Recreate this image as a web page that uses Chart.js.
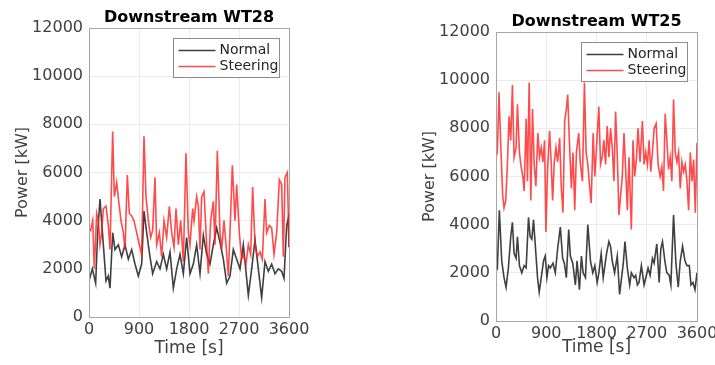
<!DOCTYPE html>
<html>
<head>
<meta charset="utf-8">
<script src="https://cdn.jsdelivr.net/npm/chart.js@4"></script>
<style>
  html, body { margin: 0; padding: 0; background: #fff; overflow: hidden; width: 715px; height: 365px; }
  canvas { position: absolute; top: 0; }
  #wt28 { left: 0; }
  #wt25 { left: 400px; }
</style>
</head>
<body>
<canvas id="wt28" width="330" height="365"></canvas>
<canvas id="wt25" width="340" height="365"></canvas>
<script>
// Axis ticks (shared)
const timeTicks = [0, 900, 1800, 2700, 3600];
const powerTicks = [0, 2000, 4000, 6000, 8000, 10000, 12000];

// WT28 - normal operation
const wt28NormalT = [0,60,120,156,198,258,306,348,378,426,468,528,588,648,708,768,828,888,948,990,1038,1098,1146,1218,1278,1338,1398,1458,1518,1578,1638,1698,1758,1818,1878,1938,1998,2058,2118,2178,2238,2298,2358,2418,2478,2538,2598,2658,2718,2778,2868,2928,2988,3048,3108,3168,3228,3288,3348,3408,3468,3510,3558,3588,3600];
const wt28NormalP = [1500,2000,1400,3500,4900,3000,1500,1700,1200,3500,2800,3000,2500,3000,2400,2800,2200,1700,2200,4400,3500,2500,1800,2300,2000,2600,2000,2700,1200,2000,2600,1800,3300,1800,2200,3000,1800,3400,2600,2200,3000,3700,3100,2400,1400,1700,2800,2400,2000,3000,900,2000,3200,2000,800,2300,1900,2200,1800,2000,1900,1600,3800,4100,2900];

// WT28 - steering
const wt28SteerT = [0,30,66,96,138,168,198,228,258,306,348,378,426,456,498,540,576,618,648,690,726,768,810,858,906,948,990,1026,1068,1110,1146,1188,1218,1266,1308,1350,1398,1446,1488,1530,1566,1608,1650,1698,1746,1788,1818,1866,1890,1938,1968,1998,2028,2070,2118,2148,2190,2238,2268,2310,2358,2388,2430,2466,2508,2538,2580,2628,2658,2706,2748,2778,2826,2868,2910,2946,2988,3030,3078,3120,3168,3198,3246,3288,3330,3378,3426,3468,3498,3528,3570,3600];
const wt28SteerP = [3700,3600,4000,2000,4300,4000,3000,3500,4500,4600,3800,2800,7700,5000,5600,4700,4000,3500,2800,5900,4300,4200,4000,3500,3000,2600,7500,5000,4000,3300,3600,5800,3000,3500,2500,4000,3300,4600,3500,2900,4500,3000,4000,2300,6800,3500,3000,4500,4000,5000,4600,2800,5000,5200,3000,1800,4000,4800,3000,6900,3500,2800,4000,3000,1700,3500,6300,4000,5500,3500,2400,2600,2200,3000,2600,5400,3000,2500,2700,2400,4900,3500,3800,3700,2600,3500,5700,5500,2500,5800,6000,3000];

// WT25 - normal operation
const wt25NormalT = [0,24,60,102,144,180,222,264,294,324,360,384,420,462,504,540,582,612,642,672,714,744,774,810,852,882,912,942,972,1020,1062,1104,1152,1194,1224,1260,1302,1332,1374,1422,1452,1494,1530,1560,1602,1644,1692,1734,1770,1812,1842,1884,1920,1950,1980,2022,2052,2082,2124,2172,2214,2244,2280,2310,2352,2394,2424,2472,2502,2532,2562,2604,2652,2694,2724,2760,2802,2832,2880,2922,2952,2982,3024,3060,3102,3132,3180,3222,3264,3300,3342,3384,3420,3462,3492,3528,3564,3600];
const wt25NormalP = [2300,2200,4600,2500,1800,1400,2200,3500,4100,2800,2600,3500,2300,2000,2300,2200,4300,3500,3400,4200,2800,1800,1200,1800,2500,2700,1800,2300,2200,2400,2000,3000,3900,2600,2400,1800,3800,2700,2400,1500,2500,1300,2700,2000,1800,4000,2500,2000,2300,1600,2000,2800,1800,2300,2800,3300,3100,2500,2000,2700,1100,1700,2400,3300,2200,1500,2000,1800,1900,1500,1600,2300,1500,1900,2200,1900,2600,2400,3200,1600,3000,3300,2500,2000,1900,1500,4400,2400,1400,2500,3100,2500,2300,2300,1500,1600,1300,2000];

// WT25 - steering
const wt25SteerT = [0,24,54,90,120,144,174,204,234,264,294,324,360,384,420,444,480,504,540,564,594,624,654,684,714,750,780,810,840,870,894,924,960,990,1014,1044,1074,1104,1140,1170,1200,1230,1260,1284,1314,1350,1380,1410,1440,1482,1512,1548,1584,1614,1644,1680,1704,1740,1770,1800,1842,1872,1902,1932,1962,1992,2022,2052,2082,2112,2142,2172,2202,2232,2262,2292,2322,2352,2382,2424,2454,2484,2514,2544,2580,2622,2652,2682,2712,2742,2772,2802,2832,2868,2904,2940,2970,3000,3030,3060,3090,3120,3150,3180,3210,3240,3270,3300,3330,3360,3390,3420,3450,3480,3510,3540,3570,3600];
const wt25SteerP = [6800,7000,9500,7000,5200,4700,5000,6500,8500,7500,9800,6800,7200,9000,7000,6500,6000,5400,8400,5800,9900,5000,8800,6500,5600,7800,6800,7200,6600,7500,3700,6300,7900,6500,5000,6600,7200,6600,7600,5500,4500,8300,8800,9400,7500,5500,7000,4600,7000,7800,6500,5800,9900,7000,6500,5500,4900,7800,6000,7200,8900,6500,6800,7500,6500,8100,6800,8000,7200,5800,8700,6900,4400,5200,6000,7800,6300,4600,6800,3800,7500,6000,6700,8000,6600,8300,6500,7000,6500,7500,6200,7000,8000,8200,6500,6000,6400,5400,8600,7500,6300,6800,5800,9200,7000,6600,7000,5500,6600,6200,6500,5800,4600,7000,5800,6700,4500,7400];

const toPoints = (ts, ps) => ts.map((t, i) => ({ x: t, y: ps[i] }));

// Draws the title over the axes, the box round them and the MATLAB style legend
const boxLegend = {
    id: 'boxLegend',
    afterDraw(chart, args, opts) {
        const ctx = chart.ctx;
        const a = chart.chartArea;
        ctx.save();
        ctx.strokeStyle = '#a6a6a6';
        ctx.lineWidth = 1;
        ctx.strokeRect(Math.round(a.left) + 0.5, Math.round(a.top) + 0.5, Math.round(a.right - a.left), Math.round(a.bottom - a.top));

        ctx.fillStyle = '#000';
        ctx.font = 'bold 16px "DejaVu Sans"';
        ctx.textAlign = 'center';
        ctx.textBaseline = 'middle';
        ctx.fillText(opts.title, (a.left + a.right) / 2, a.top - 10);

        const w = 106, h = 39;
        const x = Math.round(a.right - 10 - w) + 0.5;
        const y = Math.round(a.top + 10) + 0.5;
        ctx.fillStyle = '#fff';
        ctx.fillRect(x, y, w, h);
        ctx.strokeStyle = '#8c8c8c';
        ctx.strokeRect(x, y, w, h);
        ctx.font = '14px "DejaVu Sans"';
        ctx.textAlign = 'left';
        chart.data.datasets.slice().sort((d1, d2) => d1.legendIndex - d2.legendIndex).forEach((ds, i) => {
            const ly = y + 12 + i * 16;
            ctx.strokeStyle = ds.borderColor;
            ctx.lineWidth = 1.5;
            ctx.beginPath();
            ctx.moveTo(x + 5, ly);
            ctx.lineTo(x + 42, ly);
            ctx.stroke();
            ctx.fillStyle = '#262626';
            ctx.fillText(ds.label, x + 46, ly);
        });
        ctx.restore();
    }
};

function makeChart(id, title, normal, steer, pad) {
    const ctx = document.getElementById(id).getContext('2d');
    return new Chart(ctx, {
        type: 'line',
        data: {
            datasets: [{
                label: 'Normal',
                data: normal,
                borderColor: 'rgba(30, 30, 30, 0.85)',
                borderWidth: 1.6,
                pointRadius: 0,
                tension: 0,
                order: 1,
                legendIndex: 0
            }, {
                label: 'Steering',
                data: steer,
                borderColor: 'rgba(255, 30, 30, 0.8)',
                borderWidth: 1.6,
                pointRadius: 0,
                tension: 0,
                order: 0,
                legendIndex: 1
            }]
        },
        options: {
            responsive: false,
            animation: false,
            layout: { padding: { left: pad.left, right: pad.right, top: pad.top, bottom: pad.bottom } },
            plugins: {
                legend: { display: false },
                tooltip: { enabled: false },
                title: { display: false },
                boxLegend: { title: title }
            },
            scales: {
                x: {
                    type: 'linear',
                    min: 0,
                    max: 3600,
                    afterBuildTicks: (s) => { s.ticks = timeTicks.map(v => ({ value: v })); },
                    afterFit: (s) => { s.height = pad.xHeight; },
                    grid: { color: '#ebebeb', drawTicks: false },
                    border: { display: false },
                    ticks: { color: '#404040', font: { family: 'DejaVu Sans', size: 16 }, padding: 3, maxRotation: 0, callback: v => String(v) },
                    title: { display: true, text: 'Time [s]', color: '#404040', font: { family: 'DejaVu Sans', size: 17 }, padding: 0 }
                },
                y: {
                    min: 0,
                    max: 12000,
                    afterBuildTicks: (s) => { s.ticks = powerTicks.map(v => ({ value: v })); },
                    afterFit: (s) => { s.width = pad.yWidth; },
                    grid: { color: '#ebebeb', drawTicks: false },
                    border: { display: false },
                    ticks: { color: '#404040', font: { family: 'DejaVu Sans', size: 16 }, padding: 6, callback: v => String(v) },
                    title: { display: true, text: 'Power [kW]', color: '#404040', font: { family: 'DejaVu Sans', size: 16 }, padding: 0 }
                }
            }
        },
        plugins: [boxLegend]
    });
}

makeChart('wt28', 'Downstream WT28',
    toPoints(wt28NormalT, wt28NormalP), toPoints(wt28SteerT, wt28SteerP),
    { left: 13, right: 41, top: 28, bottom: 6, yWidth: 76, xHeight: 42 });

makeChart('wt25', 'Downstream WT25',
    toPoints(wt25NormalT, wt25NormalP), toPoints(wt25SteerT, wt25SteerP),
    { left: 20, right: 43, top: 32, bottom: 7, yWidth: 76, xHeight: 37 });
</script>
</body>
</html>
